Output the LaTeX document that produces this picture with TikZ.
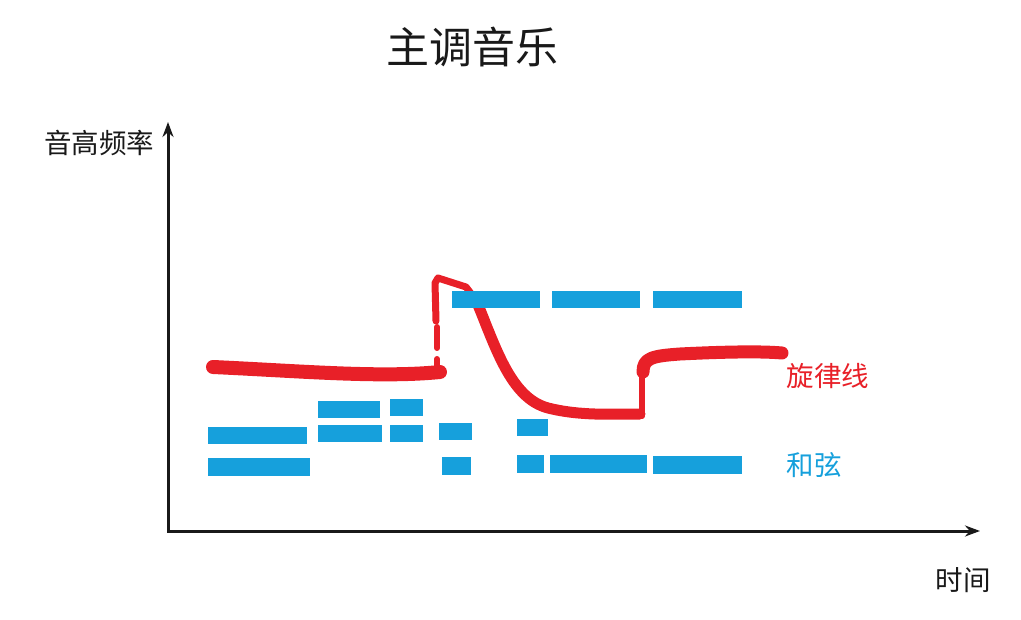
\documentclass[tikz,border=0pt]{standalone}
\usepackage{fontspec}
\newfontfamily\cjk{Noto Sans CJK SC}
\usetikzlibrary{arrows.meta}
\definecolor{mblue}{RGB}{22,160,220}
\definecolor{mred}{RGB}{232,32,40}
\definecolor{ink}{RGB}{25,25,25}
\begin{document}
\begin{tikzpicture}[x=1pt,y=-1pt,
  bar/.style={mblue, line width=17pt},
  melody/.style={mred, line cap=round, line join=round},
  axis/.style={ink, line width=3pt, {Stealth[length=15pt,width=11pt]}-{Stealth[length=15pt,width=11pt]}},
  lbl/.style={font=\cjk\fontsize{27.5}{30}\selectfont, inner sep=0pt},
  ttl/.style={font=\cjk\fontsize{43}{46}\selectfont, inner sep=0pt}]
\useasboundingbox (0,0) rectangle (1021,620);
% texts
\node[ttl, ink] (title) at (472,47) {主调音乐};
\node[lbl, ink] (ylabel) at (99,143) {音高频率};
\node[lbl, ink] (xlabel) at (963,580) {时间};
\node[lbl, mred] (mlabel) at (828,376) {旋律线};
\node[lbl, mblue] (clabel) at (814,465) {和弦};
% axes
\coordinate (O) at (168,531);
\coordinate (Y) at (168,122);
\coordinate (X) at (980,531);
\draw[axis] (Y) -- (O) -- (X);
% melody line (red)
\draw[melody, line width=14pt] (213,367) .. controls (300,371) and (380,378) .. (440,372);
\draw[melody, line width=6pt] (437,366) -- (437,359);
\draw[melody, line width=6pt] (437,348) -- (437,327);
\draw[melody, line width=7pt] (436,321) -- (435,283) -- (438,278) -- (466,287) -- (476,300);
\draw[melody, line width=11pt] (476,300) .. controls (495,345) and (510,398) .. (548,408)
  .. controls (580,416) and (610,414) .. (640,414);
\draw[melody, line width=6pt] (642,416) -- (642,372);
\draw[melody, line width=13pt] (643,372) .. controls (643,358) and (652,356) .. (680,354)
  .. controls (720,352) and (760,351) .. (782,353);
% chord bars (blue)
\draw[bar] (452,300) -- (540,300);
\draw[bar] (552,300) -- (640,300);
\draw[bar] (653,300) -- (742,300);
\draw[bar] (318,410) -- (380,410);
\draw[bar] (390,408) -- (423,408);
\draw[bar] (208,436) -- (307,436);
\draw[bar] (318,434) -- (382,434);
\draw[bar] (390,434) -- (423,434);
\draw[bar] (439,432) -- (472,432);
\draw[bar] (517,428) -- (548,428);
\draw[bar] (208,467) -- (310,467);
\draw[bar] (442,466) -- (471,466);
\draw[bar] (517,464) -- (544,464);
\draw[bar] (550,464) -- (647,464);
\draw[bar] (653,465) -- (742,465);
\end{tikzpicture}
\end{document}
